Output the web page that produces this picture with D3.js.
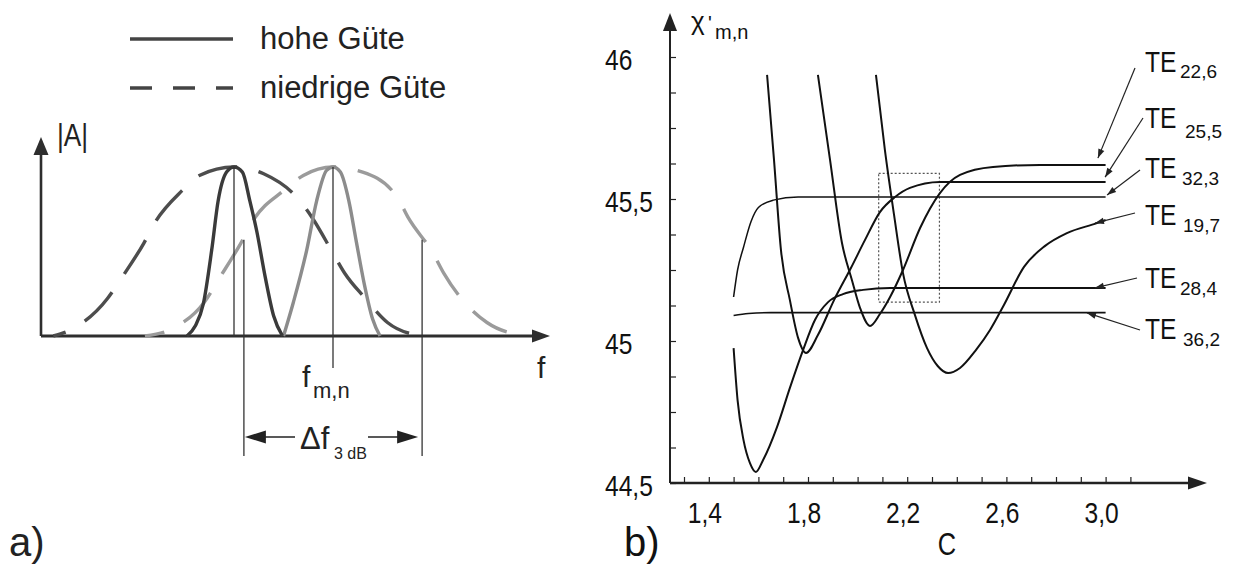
<!DOCTYPE html>
<html>
<head>
<meta charset="utf-8">
<script src="https://cdn.jsdelivr.net/npm/d3@7"></script>
<style>
  html, body { margin: 0; padding: 0; background: #fff; }
  svg { display: block; font-family: "Liberation Sans", Arial, sans-serif; }
</style>
</head>
<body>
<svg id="chart" width="1234" height="572"></svg>
<script>
// ---------------- panel a: resonance curves |A| over f (arbitrary units) ----------------
const highQLeft  = [[3.05,0],[3.22,0.06],[3.38,0.19],[3.55,0.51],[3.68,0.8],[3.85,0.97],[4.0,1.0],[4.17,0.97],[4.32,0.8],[4.46,0.62],[4.63,0.35],[4.8,0.12],[4.98,0]];
const highQRight = [[5.0,0],[5.2,0.2],[5.47,0.51],[5.67,0.8],[5.87,0.98],[6.0,1.0],[6.15,0.97],[6.32,0.8],[6.47,0.56],[6.63,0.31],[6.8,0.1],[6.95,0]];
const lowQLeft   = [[0.35,0],[0.79,0.05],[1.44,0.22],[1.72,0.34],[2.18,0.55],[2.4,0.67],[2.95,0.86],[3.3,0.95],[4.0,1.0],[4.6,0.96],[5.27,0.82],[5.58,0.7],[6.0,0.49],[6.24,0.37],[6.63,0.23],[7.1,0.08],[7.78,0]];
const lowQRight  = [[2.2,0],[2.8,0.05],[3.4,0.2],[3.7,0.34],[4.14,0.55],[4.4,0.69],[5.0,0.86],[5.4,0.95],[6.0,1.0],[6.6,0.97],[7.3,0.82],[7.52,0.7],[8.02,0.49],[8.24,0.37],[8.75,0.17],[9.11,0.08],[9.9,0]];
const centerFreqs = [4, 6];        // f of the two resonances
const bandEdges   = [4.2, 7.8];    // 3 dB points of the broad curve around f = 6
const bandEdgeLevel = 0.57;

// ---------------- panel b: chi'_{m,n} over C ----------------
const modeLabels = ["22,6", "25,5", "32,3", "19,7", "28,4", "36,2"];
const te22_6 = [[1.84,45.937],[1.889,45.637],[1.937,45.345],[1.977,45.215],[2.01,45.116],[2.05,45.053],[2.09,45.095],[2.131,45.155],[2.183,45.25],[2.252,45.398],[2.332,45.521],[2.413,45.585],[2.546,45.613],[2.735,45.62],[3.0,45.62]];
const te25_5 = [[1.635,45.937],[1.663,45.637],[1.691,45.32],[1.727,45.144],[1.76,45.011],[1.792,44.958],[1.84,45.021],[1.905,45.144],[1.973,45.257],[2.03,45.356],[2.09,45.454],[2.151,45.507],[2.211,45.539],[2.332,45.56],[3.0,45.56]];
const te32_3 = [[1.5,45.155],[1.516,45.25],[1.54,45.33],[1.57,45.42],[1.6,45.47],[1.66,45.496],[1.76,45.507],[3.0,45.507]];
const te19_7 = [[2.074,45.937],[2.11,45.673],[2.147,45.444],[2.183,45.239],[2.231,45.092],[2.28,44.975],[2.323,44.912],[2.365,44.887],[2.413,44.905],[2.477,44.968],[2.534,45.039],[2.59,45.127],[2.671,45.261],[2.756,45.335],[2.844,45.38],[2.965,45.415],[3.0,45.426]];
const te28_4 = [[1.5,44.975],[1.516,44.792],[1.54,44.651],[1.566,44.57],[1.59,44.539],[1.619,44.581],[1.675,44.697],[1.727,44.835],[1.78,44.968],[1.828,45.074],[1.881,45.137],[1.941,45.165],[2.022,45.18],[2.131,45.187],[3.0,45.187]];
const te36_2 = [[1.5,45.09],[1.56,45.097],[1.65,45.1],[3.0,45.1]];
const teArrowTips = [[2.969,45.644],[2.998,45.577],[3.006,45.514],[2.957,45.415],[2.957,45.187],[2.925,45.099]];
const zoomBoxC   = [2.085, 2.33];
const zoomBoxChi = [45.137, 45.59];
const xTickLabels = [1.4, 1.8, 2.2, 2.6, 3.0];
const yTickLabels = [44.5, 45, 45.5, 46];

const fmtComma = (v, d) => v.toFixed(d).replace(".", ",");

const svg = d3.select("#chart");

function arrowHead(g, x1, y1, x2, y2, len, half, fill) {
  const a = Math.atan2(y2 - y1, x2 - x1);
  const bx = x2 - len * Math.cos(a), by = y2 - len * Math.sin(a);
  const px = -Math.sin(a) * half, py = Math.cos(a) * half;
  g.append("path")
    .attr("d", `M${x2},${y2}L${bx + px},${by + py}L${bx - px},${by - py}Z`)
    .attr("fill", fill);
}

// ======================= panel a =======================
const xA = d3.scaleLinear().domain([0, 10]).range([36, 531]);
const yA = d3.scaleLinear().domain([0, 1]).range([336, 167]);
const gA = svg.append("g");
const axisCol = "#2e2e2e";

// legend
gA.append("line").attr("x1", 130).attr("x2", 233).attr("y1", 39).attr("y2", 39)
  .attr("stroke", "#444").attr("stroke-width", 3.5);
gA.append("text").attr("x", 260).attr("y", 49).attr("font-size", 31).attr("fill", "#222").text("hohe Güte");
gA.append("line").attr("x1", 130).attr("x2", 233).attr("y1", 88).attr("y2", 88)
  .attr("stroke", "#444").attr("stroke-width", 3.5).attr("stroke-dasharray", "22,21");
gA.append("text").attr("x", 260).attr("y", 98).attr("font-size", 31).attr("fill", "#222").text("niedrige Güte");

// axes with arrows
gA.append("line").attr("x1", 41).attr("x2", 41).attr("y1", yA(0)).attr("y2", 152)
  .attr("stroke", axisCol).attr("stroke-width", 2.6);
arrowHead(gA, 41, yA(0), 41, 137, 18, 7.5, axisCol);
gA.append("line").attr("x1", 41).attr("x2", 534).attr("y1", yA(0)).attr("y2", yA(0))
  .attr("stroke", axisCol).attr("stroke-width", 2.8);
arrowHead(gA, 41, yA(0), 550, yA(0), 18, 6.5, axisCol);

gA.append("text").attr("transform", "translate(57,146) scale(0.82,1)")
  .attr("font-size", 32).attr("fill", "#222").text("|A|");
gA.append("text").attr("x", 537).attr("y", 378).attr("font-size", 30).attr("fill", "#222").text("f");

// curves
const lineA = d3.line().x(d => xA(d[0])).y(d => yA(d[1])).curve(d3.curveMonotoneX);
const dashedSpecs = [
  { data: lowQLeft,  color: "#4d4d4d", center: centerFreqs[0] },
  { data: lowQRight, color: "#9b9b9b", center: centerFreqs[1] }
];
dashedSpecs.forEach(s => {
  const p = gA.append("path").attr("d", lineA(s.data)).attr("fill", "none")
    .attr("stroke", s.color).attr("stroke-width", 3.4).attr("stroke-dasharray", "40,22");
  // align the dash pattern so that one dash sits on the peak
  const node = p.node(), total = node.getTotalLength(), xc = xA(s.center);
  let lo = 0, hi = total;
  for (let i = 0; i < 40; i++) {
    const mid = (lo + hi) / 2;
    if (node.getPointAtLength(mid).x < xc) lo = mid; else hi = mid;
  }
  p.attr("stroke-dashoffset", -(lo - 37));
});
gA.append("path").attr("d", lineA(highQRight)).attr("fill", "none")
  .attr("stroke", "#8c8c8c").attr("stroke-width", 3.4);
gA.append("path").attr("d", lineA(highQLeft)).attr("fill", "none")
  .attr("stroke", "#3a3a3a").attr("stroke-width", 3.4);

// marker lines
const thin = "#333";
gA.append("line").attr("x1", xA(centerFreqs[0])).attr("x2", xA(centerFreqs[0]))
  .attr("y1", yA(1)).attr("y2", yA(0)).attr("stroke", thin).attr("stroke-width", 1.3);
gA.append("line").attr("x1", xA(centerFreqs[1])).attr("x2", xA(centerFreqs[1]))
  .attr("y1", yA(1)).attr("y2", 368).attr("stroke", thin).attr("stroke-width", 1.3);
bandEdges.forEach(f => {
  gA.append("line").attr("x1", xA(f)).attr("x2", xA(f))
    .attr("y1", yA(bandEdgeLevel)).attr("y2", 456).attr("stroke", thin).attr("stroke-width", 1.3);
});

// f_{m,n}
gA.append("text").attr("x", 302).attr("y", 387).attr("font-size", 30).attr("fill", "#222").text("f");
gA.append("text").attr("x", 313).attr("y", 398).attr("font-size", 22).attr("fill", "#222").text("m,n");

// Δf_3dB with arrows
const yArr = 437;
gA.append("line").attr("x1", xA(bandEdges[0]) + 12).attr("x2", 295).attr("y1", yArr).attr("y2", yArr)
  .attr("stroke", "#222").attr("stroke-width", 1.6);
arrowHead(gA, 295, yArr, xA(bandEdges[0]) + 1, yArr, 21, 6.5, "#222");
gA.append("line").attr("x1", 368).attr("x2", xA(bandEdges[1]) - 14).attr("y1", yArr).attr("y2", yArr)
  .attr("stroke", "#222").attr("stroke-width", 1.6);
arrowHead(gA, 368, yArr, xA(bandEdges[1]) - 4, yArr, 21, 6.5, "#222");
gA.append("text").attr("x", 300).attr("y", 449).attr("font-size", 31).attr("fill", "#222").text("Δf");
gA.append("text").attr("x", 334).attr("y", 459).attr("font-size", 16).attr("fill", "#222").text("3 dB");

gA.append("text").attr("x", 9).attr("y", 556).attr("font-size", 40).attr("fill", "#222").text("a)");

// ======================= panel b =======================
const xB = d3.scaleLinear().domain([1.3, 3.1]).range([684, 1130.4]);
const yB = d3.scaleLinear().domain([44.5, 46]).range([483, 57]);
const gB = svg.append("g");
const x0B = 670;

function narrowText(g, x, y, str, size, anchor) {
  return g.append("text").attr("transform", `translate(${x},${y}) scale(0.82,1)`)
    .attr("text-anchor", anchor || "start").attr("font-size", size).attr("fill", "#111").text(str);
}

// ticks from d3 axes
const xTicks = d3.range(13, 32).map(v => v / 10);
const yTicks = d3.range(0, 13).map(i => 44.5 + i * 0.125);
const gxB = gB.append("g").attr("transform", `translate(0,${yB(44.5)})`)
  .call(d3.axisBottom(xB).tickValues(xTicks).tickSize(-6).tickFormat(""));
const gyB = gB.append("g").attr("transform", `translate(${x0B},0)`)
  .call(d3.axisLeft(yB).tickValues(yTicks).tickSize(-6).tickFormat(""));
[gxB, gyB].forEach(g => {
  g.select(".domain").remove();
  g.selectAll(".tick line").attr("stroke", "#222").attr("stroke-width", 1.2);
});

// axis lines with arrows
gB.append("line").attr("x1", x0B).attr("x2", x0B).attr("y1", yB(44.5)).attr("y2", 28)
  .attr("stroke", "#222").attr("stroke-width", 2);
arrowHead(gB, x0B, yB(44.5), x0B, 13, 18, 7, "#222");
gB.append("line").attr("x1", x0B).attr("x2", 1192).attr("y1", yB(44.5)).attr("y2", yB(44.5))
  .attr("stroke", "#222").attr("stroke-width", 2.4);
arrowHead(gB, x0B, yB(44.5), 1207, yB(44.5), 19, 6.5, "#222");

// tick labels
yTickLabels.forEach(v => {
  narrowText(gB, 605, yB(v) + 13, fmtComma(v, v % 1 === 0 ? 0 : 1), 30, "start");
});
xTickLabels.forEach(v => {
  narrowText(gB, xB(v) - 4, 523, fmtComma(v, 1), 30, "middle");
});
narrowText(gB, 947, 555, "C", 31, "middle");

// axis title chi'_{m,n}
gB.append("text").attr("x", 691).attr("y", 30).attr("font-size", 26).attr("fill", "#111").text("χ");
gB.append("text").attr("x", 708).attr("y", 30).attr("font-size", 20).attr("fill", "#111").text("'");
gB.append("text").attr("x", 715).attr("y", 39).attr("font-size", 20).attr("fill", "#111").text("m,n");

// zoom box
gB.append("rect")
  .attr("x", xB(zoomBoxC[0])).attr("y", yB(zoomBoxChi[1]))
  .attr("width", xB(zoomBoxC[1]) - xB(zoomBoxC[0]))
  .attr("height", yB(zoomBoxChi[0]) - yB(zoomBoxChi[1]))
  .attr("fill", "none").attr("stroke", "#555").attr("stroke-width", 1.2).attr("stroke-dasharray", "2,2");

// mode curves
const lineB = d3.line().x(d => xB(d[0])).y(d => yB(d[1])).curve(d3.curveMonotoneX);
const modeSeries = [te22_6, te25_5, te32_3, te19_7, te28_4, te36_2];
const modeWidths = [2, 2, 1.5, 2, 2, 1.6];
modeSeries.forEach((s, i) => {
  gB.append("path").attr("d", lineB(s)).attr("fill", "none")
    .attr("stroke", "#111").attr("stroke-width", modeWidths[i]);
});

// mode labels with pointer arrows
const labelPos = [[1145, 72], [1145, 128], [1145, 178], [1145, 225], [1145, 288], [1145, 339]];
const subDx = [35, 40, 37, 38, 35, 38];
const subDy = [6, 10, 7, 7, 7, 7];
const arrowStart = [[1135, 68], [1143, 118], [1140, 170], [1135, 213], [1137, 278], [1140, 330]];
modeLabels.forEach((lab, i) => {
  const [lx, ly] = labelPos[i];
  narrowText(gB, lx, ly, "TE", 30, "start");
  gB.append("text").attr("x", lx + subDx[i]).attr("y", ly + subDy[i])
    .attr("font-size", 19).attr("fill", "#111").text(lab);
  const [sx, sy] = arrowStart[i];
  const tx = xB(teArrowTips[i][0]), ty = yB(teArrowTips[i][1]);
  gB.append("line").attr("x1", sx).attr("y1", sy).attr("x2", tx).attr("y2", ty)
    .attr("stroke", "#222").attr("stroke-width", 1.2);
  arrowHead(gB, sx, sy, tx, ty, 9, 3.2, "#222");
});

gB.append("text").attr("x", 624).attr("y", 556).attr("font-size", 40).attr("fill", "#111").text("b)");
</script>
</body>
</html>
